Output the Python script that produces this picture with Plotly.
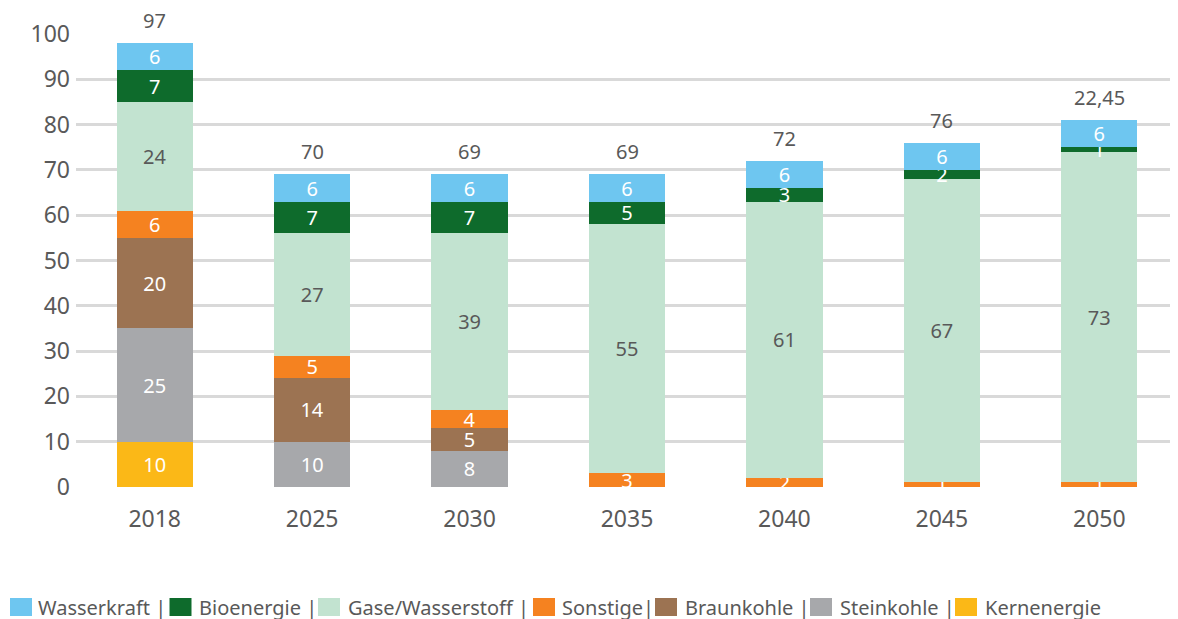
import plotly.graph_objects as go

years = ["2018", "2025", "2030", "2035", "2040", "2045", "2050"]
kernenergie = [10, None, None, None, None, None, None]
steinkohle = [25, 10, 8, None, None, None, None]
braunkohle = [20, 14, 5, None, None, None, None]
sonstige = [6, 5, 4, 3, 2, 1, 1]
gase = [24, 27, 39, 55, 61, 67, 73]
bioenergie = [7, 7, 7, 5, 3, 2, 1]
wasserkraft = [6, 6, 6, 6, 6, 6, 6]
total_labels = ["97", "70", "69", "69", "72", "76", "22,45"]

series = [
    ("Kernenergie", kernenergie, "#FBB817", "white"),
    ("Steinkohle |", steinkohle, "#A7A8AB", "white"),
    ("Braunkohle |", braunkohle, "#9C7352", "white"),
    ("Sonstige|", sonstige, "#F58220", "white"),
    ("Gase/Wasserstoff |", gase, "#C2E3D0", "#595959"),
    ("Bioenergie |", bioenergie, "#0E6B2C", "white"),
    ("Wasserkraft |", wasserkraft, "#6EC6F0", "white"),
]

FONT = "Noto Sans"
GREY = "#595959"
OFF = 8  # page body margin offset
W, H = 1178, 619
# plot area in window pixels: x 76..1178, y 34..487
ML, MR, MT, MB = 76 - OFF, OFF, 34 - OFF, H - (487 - OFF)
PW, PH = W - ML - MR, H - MT - MB

fig = go.Figure()
for name, vals, color, tcolor in series:
    fig.add_trace(go.Bar(
        x=years, y=vals, name=name,
        marker=dict(color=color, line=dict(width=0)),
        text=[("" if v is None else str(v)) for v in vals],
        textposition="inside", insidetextanchor="middle", textangle=0,
        constraintext="none",
        textfont=dict(family=FONT, size=20, color=tcolor),
        hoverinfo="skip", showlegend=False,
    ))

# stack tops from the series
tops = []
for i in range(len(years)):
    s = 0
    for _, vals, _, _ in series:
        if vals[i] is not None:
            s += vals[i]
    tops.append(s)

for i, (top, lab) in enumerate(zip(tops, total_labels)):
    fig.add_annotation(x=i, y=top, text=lab, showarrow=False,
                       yanchor="bottom", yshift=7,
                       font=dict(family=FONT, size=20, color=GREY))

# custom legend (Excel-style, tight spacing), positions in window pixels
marker_px = [10, 169.5, 318, 533, 655, 810, 955]
text_px = [36, 197, 345.5, 559.5, 683, 837.5, 982.5]
def px2x(px):
    return (px - OFF - ML) / PW
def py2y(py):
    return (H - MB - (py - OFF)) / PH
for (name, vals, color, tcolor), mx, tx in zip(series[::-1], marker_px, text_px):
    fig.add_shape(type="rect", xref="paper", yref="paper",
                  x0=px2x(mx), x1=px2x(mx + 22), y0=py2y(616), y1=py2y(598),
                  fillcolor=color, line=dict(width=0))
    fig.add_annotation(xref="paper", yref="paper", x=px2x(tx), y=py2y(607),
                       xanchor="left", yanchor="middle", text=name, showarrow=False,
                       font=dict(family=FONT, size=20, color=GREY))

fig.update_layout(
    width=W, height=H,
    margin=dict(l=ML, r=MR, t=MT, b=MB),
    barmode="stack", bargap=0.516,
    plot_bgcolor="white", paper_bgcolor="white",
    font=dict(family=FONT, size=20, color=GREY),
    showlegend=False,
    xaxis=dict(type="category", showgrid=False, zeroline=False, showline=False,
               ticklabelstandoff=16, tickfont=dict(size=23, color=GREY)),
    yaxis=dict(range=[0, 100], dtick=10, showgrid=True, gridcolor="#D9D9D9",
               gridwidth=2.5, zeroline=False, showline=False,
               ticklabelstandoff=5, tickfont=dict(size=23, color=GREY)),
)

fig.write_html("out.html")
